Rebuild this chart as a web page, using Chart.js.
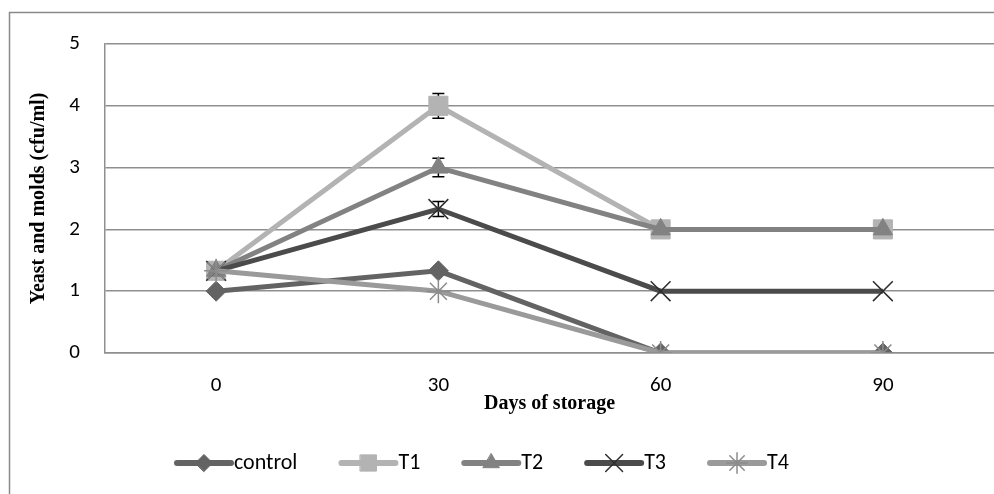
<!DOCTYPE html>
<html>
<head>
<meta charset="utf-8">
<script src="https://cdn.jsdelivr.net/npm/chart.js@4.4.1/dist/chart.umd.min.js"></script>
<style>
  html, body { margin: 0; padding: 0; background: #ffffff; }
  #chart { display: block; }
</style>
</head>
<body>
<canvas id="chart" width="994" height="494"></canvas>
<script>
const days = ['0', '30', '60', '90'];

const control = [1, 1.33, 0, 0];
const t1 = [1.33, 4, 2, 2];
const t2 = [1.33, 3, 2, 2];
const t3 = [1.33, 2.33, 1, 1];
const t4 = [1.33, 1, 0, 0];

// standard error
const errT1 = [0, 0.2, 0, 0];
const errT2 = [0, 0.15, 0, 0];
const errT3 = [0, 0.12, 0, 0];

const yTicks = [0, 1, 2, 3, 4, 5];

const gridColor = '#8f8f8f';
const tickFont = { family: 'Carlito, Lato, "Liberation Sans", sans-serif', size: 21 };
const legendFont = { family: 'Carlito, Lato, "Liberation Sans", sans-serif', size: 22 };
const titleFont = { family: '"Liberation Serif", "Times New Roman", serif', size: 20, weight: 'bold' };

function series(label, data, color, style, radius, extra) {
    return Object.assign({
        label: label,
        data: data,
        borderColor: color,
        backgroundColor: color,
        borderWidth: 5,
        pointStyle: style,
        pointRadius: radius,
        pointHoverRadius: radius,
        pointBackgroundColor: color,
        pointBorderColor: color,
        pointBorderWidth: 1,
        tension: 0,
        fill: false
    }, extra || {});
}

const datasets = [
    series('control', control, '#636363', 'rectRot', 10, { order: 5 }),
    series('T1', t1, '#b3b3b3', 'rect', 13.5, { order: 4, errors: errT1 }),
    series('T2', t2, '#828282', 'triangle', 11, { order: 3, errors: errT2 }),
    series('T3', t3, '#4b4b4b', 'crossRot', 14, { order: 2, errors: errT3, pointBorderColor: '#2e2e2e', pointBorderWidth: 1.5 }),
    series('T4', t4, '#9a9a9a', 'star', 12, { order: 1, pointBorderColor: '#8c8c8c', pointBorderWidth: 1.5 })
];

const frame = {
    id: 'frame',
    beforeDraw(chart) {
        const ctx = chart.ctx;
        ctx.save();
        ctx.fillStyle = '#ffffff';
        ctx.fillRect(0, 0, chart.width, chart.height);
        ctx.strokeStyle = '#8a8a8a';
        ctx.lineWidth = 1.5;
        ctx.strokeRect(9.5, 12.5, chart.width + 20, chart.height + 20);
        ctx.restore();
    }
};

const errorBars = {
    id: 'errorBars',
    beforeDatasetsDraw(chart) {
        const ctx = chart.ctx;
        const x = chart.scales.x;
        const y = chart.scales.y;
        ctx.save();
        ctx.strokeStyle = '#000000';
        ctx.lineWidth = 1.5;
        chart.data.datasets.forEach(ds => {
            if (!ds.errors) return;
            ds.data.forEach((v, i) => {
                const e = ds.errors[i];
                if (!e) return;
                const px = x.getPixelForValue(i);
                const top = y.getPixelForValue(v + e);
                const bot = y.getPixelForValue(v - e);
                ctx.beginPath();
                ctx.moveTo(px, top); ctx.lineTo(px, bot);
                ctx.moveTo(px - 6, top); ctx.lineTo(px + 6, top);
                ctx.moveTo(px - 6, bot); ctx.lineTo(px + 6, bot);
                ctx.stroke();
            });
        });
        ctx.restore();
    }
};

// Excel style legend: short line with the marker in the middle
const excelLegend = {
    id: 'excelLegend',
    afterDraw(chart) {
        const ctx = chart.ctx;
        const lineLen = 54;
        const gap = 44;
        const cy = 463;
        let x = 177;
        ctx.save();
        ctx.font = legendFont.size + 'px ' + legendFont.family;
        ctx.textBaseline = 'middle';
        ctx.textAlign = 'left';
        chart.data.datasets.forEach(ds => {
            ctx.strokeStyle = ds.borderColor;
            ctx.lineWidth = 6;
            ctx.lineCap = 'round';
            ctx.beginPath();
            ctx.moveTo(x, cy);
            ctx.lineTo(x + lineLen, cy);
            ctx.stroke();
            ctx.fillStyle = ds.pointBackgroundColor;
            ctx.strokeStyle = ds.pointBorderColor;
            ctx.lineWidth = ds.pointBorderWidth;
            Chart.helpers.drawPoint(ctx, {
                pointStyle: ds.pointStyle,
                radius: ds.pointRadius * 0.85,
                rotation: 0,
                borderWidth: ds.pointBorderWidth
            }, x + lineLen / 2, cy);
            ctx.fillStyle = '#000000';
            ctx.fillText(ds.label, x + lineLen + 3, cy);
            x += lineLen + 3 + ctx.measureText(ds.label).width + gap;
        });
        ctx.restore();
    }
};

new Chart(document.getElementById('chart'), {
    type: 'line',
    data: { labels: days, datasets: datasets },
    plugins: [frame, errorBars, excelLegend],
    options: {
        responsive: false,
        animation: false,
        devicePixelRatio: 1,
        layout: { autoPadding: false, padding: { left: 0, top: 44, right: 0, bottom: 78 } },
        plugins: {
            legend: { display: false },
            tooltip: { enabled: false }
        },
        scales: {
            x: {
                type: 'category',
                offset: true,
                grid: { display: false, drawTicks: false },
                border: { display: true, color: gridColor, width: 1.5 },
                ticks: { color: '#000000', font: tickFont, padding: 20, maxRotation: 0 },
                title: { display: true, text: 'Days of storage', color: '#000000', font: titleFont, padding: { top: 0, bottom: 0 } },
                afterFit(scale) { scale.height = 63; }
            },
            y: {
                min: 0,
                max: 5,
                afterBuildTicks(scale) { scale.ticks = yTicks.map(v => ({ value: v })); },
                grid: { color: gridColor, lineWidth: 1.5, drawTicks: false },
                border: { display: true, color: gridColor, width: 1.5 },
                ticks: { color: '#000000', font: tickFont, padding: 25 },
                title: { display: true, text: 'Yeast and molds (cfu/ml)', color: '#000000', font: titleFont, padding: { top: 27, bottom: 0 } },
                afterFit(scale) { scale.width = 105; }
            }
        }
    }
});
</script>
</body>
</html>
